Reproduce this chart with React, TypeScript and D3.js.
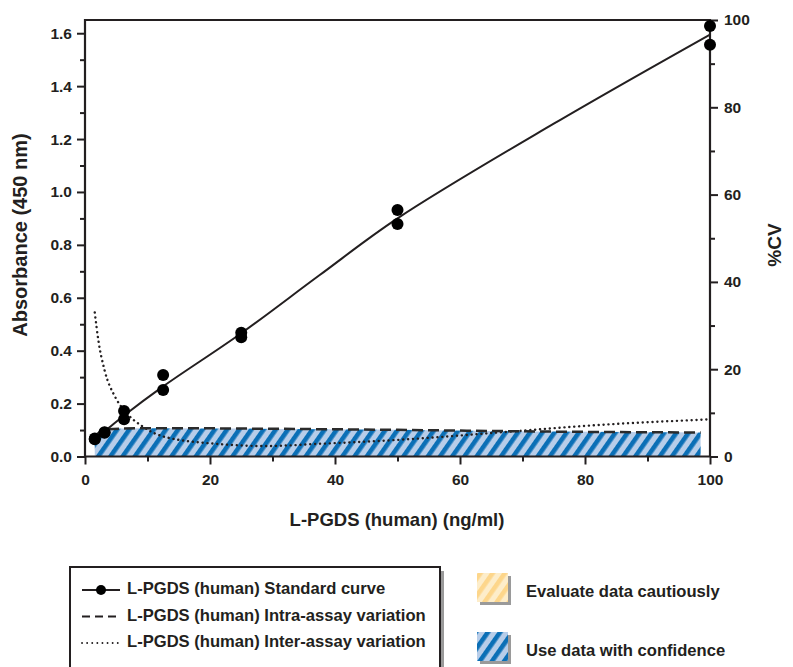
import { useEffect, useRef } from 'react';
import * as d3 from 'd3';

// standard points (ng/ml, absorbance), duplicates
const stdConc = [1.5625, 1.5625, 3.125, 3.125, 6.25, 6.25, 12.5, 12.5, 25, 25, 50, 50, 100, 100];
const stdAbs = [0.065, 0.068, 0.09, 0.092, 0.172, 0.141, 0.308, 0.251, 0.468, 0.451, 0.932, 0.879, 1.627, 1.556];

// fitted standard curve
const fitConc = [1.5625, 3.125, 6.25, 12.5, 25, 37.5, 50, 75, 100];
const fitAbs = [0.068, 0.095, 0.155, 0.265, 0.466, 0.685, 0.9, 1.258, 1.595];

// %CV curves
const intraConc = [1.5625, 3.125, 6.25, 12.5, 25, 50, 75, 98.5];
const intraCV = [4.5, 6.2, 6.4, 6.5, 6.4, 6.1, 5.7, 5.5];
const interConc = [1.5625, 2.13, 3.125, 4.8, 6.25, 9.3, 12.5, 21, 29, 37.5, 50, 68, 82, 100];
const interCV = [33, 26.7, 19.8, 13.7, 10.6, 6.8, 4.6, 2.9, 2.4, 2.9, 3.8, 5.7, 7.2, 8.5];

const xTicks = [0, 20, 40, 60, 80, 100];
const xMinor = [10, 30, 50, 70, 90];
const yTicks = [0, 0.2, 0.4, 0.6, 0.8, 1.0, 1.2, 1.4, 1.6];
const yMinor = [0.1, 0.3, 0.5, 0.7, 0.9, 1.1, 1.3, 1.5];
const cvTicks = [0, 20, 40, 60, 80, 100];
const cvMinor = [10, 30, 50, 70, 90];

const legendLines = [
  'L-PGDS (human) Standard curve',
  'L-PGDS (human) Intra-assay variation',
  'L-PGDS (human) Inter-assay variation',
];
const legendZones = ['Evaluate data cautiously', 'Use data with confidence'];

const INK = '#231f20';
const FONT = 'Liberation Sans, Arial, Helvetica, sans-serif';

export default function App() {
  const svgRef = useRef<SVGSVGElement>(null);

  useEffect(() => {
    if (!svgRef.current) return;
    const svg = d3.select(svgRef.current);
    svg.selectAll('*').remove();

    const left = 85, right = 710, top = 20, bottom = 456.5;
    const x = d3.scaleLinear().domain([0, 100]).range([left, right]);
    const y = d3.scaleLinear().domain([0, 1.65]).range([bottom, top]);
    const cv = d3.scaleLinear().domain([0, 100]).range([bottom, top]);

    const defs = svg.append('defs');
    const mkPattern = (id: string, bg: string, fg: string) => {
      const p = defs.append('pattern')
        .attr('id', id)
        .attr('patternUnits', 'userSpaceOnUse')
        .attr('width', 10)
        .attr('height', 10)
        .attr('patternTransform', 'rotate(35)');
      p.append('rect').attr('width', 10).attr('height', 10).attr('fill', bg);
      p.append('rect').attr('width', 4.6).attr('height', 10).attr('fill', fg);
    };
    mkPattern('blueHatch', '#b7cde9', '#0b6fb6');
    mkPattern('yellowHatch', '#fdedca', '#fdd68b');

    // confidence zone under intra-assay curve
    const intraData = intraConc.map((c, i) => ({ c, v: intraCV[i] }));
    const area = d3.area<{ c: number; v: number }>()
      .x(d => x(d.c))
      .y0(cv(0))
      .y1(d => cv(d.v))
      .curve(d3.curveMonotoneX);
    svg.append('path')
      .datum(intraData)
      .attr('fill', 'url(#blueHatch)')
      .attr('d', area);

    // axes
    const styleAxis = (g: d3.Selection<SVGGElement, unknown, null, undefined>) => {
      g.select('.domain').remove();
      g.selectAll('line').attr('stroke', INK).attr('stroke-width', 2);
      g.selectAll('text')
        .attr('fill', INK)
        .style('font-family', FONT)
        .style('font-weight', 'bold')
        .style('font-size', '15.5px');
    };

    const gx = svg.append('g').attr('transform', `translate(0, ${bottom})`);
    gx.call(d3.axisBottom(x).tickValues(xTicks).tickSize(8).tickPadding(9).tickFormat(d3.format('d')));
    styleAxis(gx);
    const gxm = svg.append('g').attr('transform', `translate(0, ${bottom})`);
    gxm.call(d3.axisBottom(x).tickValues(xMinor).tickSize(5).tickFormat(() => ''));
    styleAxis(gxm);

    const gy = svg.append('g').attr('transform', `translate(${left}, 0)`);
    gy.call(d3.axisLeft(y).tickValues(yTicks).tickSize(8).tickPadding(5).tickFormat(d3.format('.1f')));
    styleAxis(gy);
    const gym = svg.append('g').attr('transform', `translate(${left}, 0)`);
    gym.call(d3.axisLeft(y).tickValues(yMinor).tickSize(5).tickFormat(() => ''));
    styleAxis(gym);

    const gr = svg.append('g').attr('transform', `translate(${right}, 0)`);
    gr.call(d3.axisRight(cv).tickValues(cvTicks).tickSize(8).tickPadding(6).tickFormat(d3.format('d')));
    styleAxis(gr);
    const grm = svg.append('g').attr('transform', `translate(${right}, 0)`);
    grm.call(d3.axisRight(cv).tickValues(cvMinor).tickSize(5).tickFormat(() => ''));
    styleAxis(grm);

    // frame
    svg.append('path')
      .attr('d', `M${left},${bottom}V${top}H${right}V${bottom}Z`)
      .attr('fill', 'none')
      .attr('stroke', INK)
      .attr('stroke-width', 2.2);

    // inter-assay (dotted)
    const interData = interConc.map((c, i) => ({ c, v: interCV[i] }));
    const cvLine = d3.line<{ c: number; v: number }>()
      .x(d => x(d.c))
      .y(d => cv(d.v))
      .curve(d3.curveMonotoneX);
    svg.append('path')
      .datum(interData)
      .attr('fill', 'none')
      .attr('stroke', INK)
      .attr('stroke-width', 2.4)
      .attr('stroke-linecap', 'round')
      .attr('stroke-dasharray', '0.1,4.8')
      .attr('d', cvLine);

    // intra-assay (dashed)
    svg.append('path')
      .datum(intraData)
      .attr('fill', 'none')
      .attr('stroke', '#2b2b2b')
      .attr('stroke-width', 2.5)
      .attr('stroke-dasharray', '11,5')
      .attr('d', cvLine);

    // standard curve
    const fitData = fitConc.map((c, i) => ({ c, v: fitAbs[i] }));
    svg.append('path')
      .datum(fitData)
      .attr('fill', 'none')
      .attr('stroke', INK)
      .attr('stroke-width', 2)
      .attr('d', d3.line<{ c: number; v: number }>()
        .x(d => x(d.c))
        .y(d => y(d.v))
        .curve(d3.curveCatmullRom));

    svg.append('g')
      .selectAll('circle')
      .data(stdConc.map((c, i) => ({ c, v: stdAbs[i] })))
      .join('circle')
      .attr('cx', d => x(d.c))
      .attr('cy', d => y(d.v))
      .attr('r', 6)
      .attr('fill', '#000');

    // axis titles
    const title = (t: string, tx: number, ty: number, rot: number, size: number) =>
      svg.append('text')
        .attr('transform', `translate(${tx}, ${ty}) rotate(${rot})`)
        .attr('text-anchor', 'middle')
        .attr('dominant-baseline', 'middle')
        .attr('fill', INK)
        .style('font-family', FONT)
        .style('font-weight', 'bold')
        .style('font-size', `${size}px`)
        .text(t);
    title('Absorbance (450 nm)', 22, 235, -90, 20);
    title('L-PGDS (human) (ng/ml)', 397, 521, 0, 18.5);
    title('%CV', 776, 245, -90, 19);

    // legend box
    const lg = svg.append('g');
    lg.append('rect').attr('x', 74).attr('y', 571).attr('width', 370).attr('height', 130).attr('fill', '#9a9a9a');
    lg.append('rect').attr('x', 70).attr('y', 567).attr('width', 370).attr('height', 130)
      .attr('fill', '#fff').attr('stroke', INK).attr('stroke-width', 2);
    const rowY = d3.scalePoint<string>().domain(legendLines).range([590, 643]);
    const dashes = [null, '8,5', '0.1,5'];
    legendLines.forEach((t, i) => {
      const yy = rowY(t) as number;
      lg.append('line')
        .attr('x1', 82).attr('x2', 120).attr('y1', yy).attr('y2', yy)
        .attr('stroke', INK)
        .attr('stroke-width', i === 2 ? 1.8 : 2.2)
        .attr('stroke-linecap', i === 2 ? 'round' : 'butt')
        .attr('stroke-dasharray', dashes[i]);
      if (i === 0) lg.append('circle').attr('cx', 101).attr('cy', yy).attr('r', 5).attr('fill', '#000');
      lg.append('text')
        .attr('x', 127).attr('y', yy)
        .attr('dominant-baseline', 'middle')
        .attr('fill', INK)
        .style('font-family', FONT)
        .style('font-weight', 'bold')
        .style('font-size', '16.6px')
        .text(t);
    });

    const zoneY = d3.scalePoint<string>().domain(legendZones).range([593, 652]);
    const fills = ['url(#yellowHatch)', 'url(#blueHatch)'];
    legendZones.forEach((t, i) => {
      const yy = zoneY(t) as number;
      lg.append('rect').attr('x', 480).attr('y', yy - 17).attr('width', 31).attr('height', 29).attr('fill', '#9a9a9a');
      lg.append('rect').attr('x', 477).attr('y', yy - 20).attr('width', 31).attr('height', 29).attr('fill', fills[i]);
      lg.append('text')
        .attr('x', 526).attr('y', yy)
        .attr('dominant-baseline', 'middle')
        .attr('fill', INK)
        .style('font-family', FONT)
        .style('font-weight', 'bold')
        .style('font-size', '16.6px')
        .text(t);
    });
  }, []);

  return (
    <svg
      ref={svgRef}
      width={793}
      height={667}
      style={{ position: 'absolute', left: 0, top: 0, background: '#fff' }}
    />
  );
}
